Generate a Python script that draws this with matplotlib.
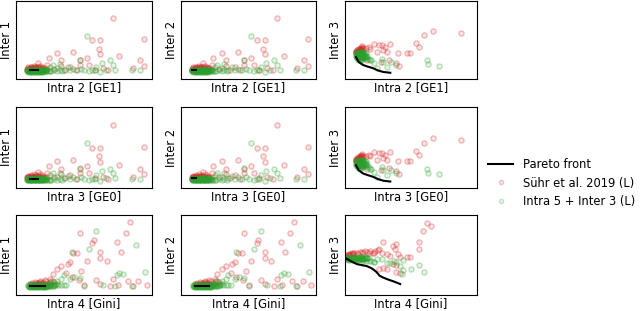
import matplotlib
matplotlib.use("Agg")
import matplotlib.pyplot as plt
from matplotlib.colors import to_rgba
from matplotlib.lines import Line2D

plt.rcParams["font.family"] = ["DejaVu Sans"]
plt.rcParams["font.size"] = 8.3

RED = "#d62728"
GREEN = "#2ca02c"

# values, in % of the (tick-less) axis range
# panels with x = Intra 2 / Intra 3, y = Inter 1 / Inter 2
ge_red_x = [71, 94, 56, 62, 61, 62, 42, 30, 24, 33, 52, 47, 76, 91, 94, 86, 54, 47, 40, 33,
            23, 18, 16, 20, 28, 36, 44, 58, 64, 68]
ge_red_y = [78, 51, 50, 50, 39, 32, 35, 33, 27, 24, 27, 24, 29, 24, 17, 14, 18, 18, 16, 17,
            18, 17, 20, 14, 13, 12, 11, 12, 14, 11]
ge_red_core_x = [8, 9, 10, 11, 12, 13, 14, 15, 16, 17, 18, 19, 20, 9, 11, 13, 15, 17, 19, 21,
                 23, 10, 12, 14, 16, 18, 8, 9, 10, 11, 12, 13, 14, 15]
ge_red_core_y = [12, 13, 14, 13, 14, 15, 14, 13, 15, 14, 13, 14, 13, 15, 16, 17, 16, 15, 16, 14,
                 13, 12, 12, 13, 12, 12, 13, 14, 13, 15, 13, 14, 13, 15]
ge_green_x = [52, 47, 69, 63, 71, 59, 73, 66, 56, 50, 45, 40, 85, 91, 62, 35, 30, 27, 25, 32,
              38, 42, 48, 54, 58]
ge_green_y = [55, 25, 24, 21, 18, 16, 12, 12, 11, 11, 11, 11, 11, 11, 9, 12, 14, 18, 16, 19,
              15, 13, 13, 10, 11]
ge_green_core_x = [8, 9, 10, 11, 12, 13, 14, 15, 16, 17, 18, 19, 20, 21, 22, 23, 24, 25,
                   8, 9, 10, 11, 12, 13, 14, 15, 16, 17, 18, 19, 20, 21, 22,
                   9, 10, 11, 12, 13, 14, 15, 16, 17, 18, 19, 20,
                   10, 12, 14, 16, 18, 20, 22, 26, 28, 30, 32, 34,
                   8.5, 9.5, 10.5, 11.5, 12.5, 13.5, 14.5, 15.5, 16.5, 17.5, 18.5, 19.5, 20.5,
                   8.5, 9.5, 10.5, 11.5, 12.5, 13.5, 14.5, 15.5, 16.5, 17.5, 18.5, 19.5, 20.5]
ge_green_core_y = [10, 10, 10, 10, 10, 10, 10, 10, 10, 10, 10, 10, 10, 10, 10, 10, 10, 10,
                   11, 11, 11, 11, 11, 11, 11, 11, 11, 11, 11, 11, 11, 11, 11,
                   9.5, 9.5, 9.5, 9.5, 9.5, 9.5, 9.5, 9.5, 9.5, 9.5, 9.5, 9.5,
                   12, 12, 13, 12, 13, 12, 11, 10, 11, 10, 11, 10,
                   10.5, 10.5, 10.5, 10.5, 10.5, 10.5, 10.5, 10.5, 10.5, 10.5, 10.5, 10.5, 10.5,
                   11.5, 11.5, 11.5, 11.5, 11.5, 11.5, 11.5, 11.5, 11.5, 11.5, 11.5, 11.5, 11.5]
ge_front1_x = [10, 16]
ge_front1_y = [11, 11]
ge_front2_x = [8, 11]
ge_front2_y = [12, 12]

# panels with x = Intra 2 / Intra 3, y = Inter 3
ge3_red_x = [67, 60, 88, 54, 56, 49, 47, 40, 34, 30, 28, 26, 22, 19, 29, 32, 24, 39, 41, 33,
             27, 17]
ge3_red_y = [62, 56, 59, 46, 41, 33, 33, 33, 45, 41, 43, 43, 45, 39, 37, 35, 35, 21, 17, 25,
             22, 24]
ge3_red_core_x = [8, 9, 10, 11, 12, 13, 14, 9, 10, 11, 12, 13, 8, 10, 12, 14, 16, 18,
                  8.5, 9.5, 10.5, 11.5, 8, 9]
ge3_red_core_y = [36, 37, 38, 39, 39, 40, 40, 34, 36, 38, 41, 42, 33, 35, 37, 38, 40, 41,
                  35, 36, 37, 38, 34, 35]
ge3_green_x = [62, 63, 71, 39, 35, 29, 28, 24, 22, 19, 17, 32]
ge3_green_y = [24, 19, 17, 18, 22, 22, 26, 14, 20, 24, 26, 16]
ge3_green_core_x = [8, 9, 10, 11, 12, 13, 14, 15, 16, 8, 9, 10, 11, 12, 13, 14, 15, 16, 17,
                    9, 10, 11, 12, 13, 14, 15, 9, 10, 11, 12, 13, 14, 10, 11, 12, 13, 16, 18, 20,
                    8.5, 9.5, 10.5, 11.5, 12.5, 13.5, 14.5, 8.5, 9.5, 10.5, 11.5, 12.5, 13.5, 14.5]
ge3_green_core_y = [33, 33, 33, 33, 33, 33, 33, 33, 33, 30, 30, 30, 30, 30, 30, 30, 30, 30, 30,
                    27, 27, 27, 27, 27, 27, 27, 35, 35, 35, 35, 35, 35, 25, 25, 25, 25, 28, 26, 24,
                    31.5, 31.5, 31.5, 31.5, 31.5, 31.5, 31.5, 28.5, 28.5, 28.5, 28.5, 28.5, 28.5, 28.5]
ge3_front_x = [8.3, 10.3, 13.6, 17.0, 21.0, 25.0, 29.0, 34.3]
ge3_front_y = [28.0, 22.0, 18.0, 16.0, 14.0, 11.0, 9.0, 8.0]

# panels with x = Intra 4 [Gini], y = Inter 1 / Inter 2
gini_red_x = [84, 81, 47, 57, 56, 74, 62, 62, 77, 67, 52, 42, 45, 40, 38, 33, 30, 27, 37, 48,
              41, 46, 59, 62, 71, 82, 90, 96, 86, 75, 69, 50, 20, 22, 18, 16, 24]
gini_red_y = [91, 78, 77, 69, 65, 66, 54, 46, 54, 42, 43, 53, 52, 41, 39, 36, 32, 26, 27, 30,
              22, 19, 19, 14, 20, 17, 18, 12, 11, 12, 11, 12, 14, 13, 16, 15, 12]
gini_red_core_x = [10, 12, 14, 16, 18, 20, 22, 24, 26, 28, 13, 17, 21, 25, 29,
                   11, 13, 15, 17, 19, 21]
gini_red_core_y = [14, 15, 16, 15, 17, 16, 18, 15, 17, 16, 13, 14, 19, 20, 14,
                   14, 14, 15, 14, 15, 14]
gini_green_x = [59, 54, 88, 41, 76, 74, 79, 95, 85, 73, 64, 50, 47, 43, 40, 35, 33, 30, 27,
                25]
gini_green_y = [80, 57, 63, 54, 27, 25, 26, 29, 11, 11, 12, 11, 21, 23, 20, 25, 20, 18, 18,
                16]
gini_green_core_x = [9, 10, 11, 12, 13, 14, 15, 16, 17, 18, 19, 20, 21, 22, 23, 24, 25, 26, 27, 28,
                     9, 11, 13, 15, 17, 19, 21, 23, 25, 27, 29, 31, 33, 35, 37,
                     10, 12, 14, 16, 18, 20, 22, 24, 26, 28, 30,
                     9.5, 10.5, 11.5, 12.5, 13.5, 14.5, 15.5, 16.5, 17.5, 18.5, 19.5, 20.5, 21.5, 22.5,
                     9.5, 10.5, 11.5, 12.5, 13.5, 14.5, 15.5, 16.5, 17.5, 18.5, 19.5, 20.5, 21.5, 22.5]
gini_green_core_y = [11, 11, 11, 11, 11, 11, 11, 11, 11, 11, 11, 11, 11, 11, 11, 11, 11, 11, 11, 11,
                     12, 12, 12, 12, 12, 12, 12, 12, 12, 12, 12, 12, 12, 12, 12,
                     13.5, 13, 13.5, 13, 13.5, 13, 13.5, 13, 13.5, 13, 13.5,
                     10.5, 10.5, 10.5, 10.5, 10.5, 10.5, 10.5, 10.5, 10.5, 10.5, 10.5, 10.5, 10.5, 10.5,
                     11.5, 11.5, 11.5, 11.5, 11.5, 11.5, 11.5, 11.5, 11.5, 11.5, 11.5, 11.5, 11.5, 11.5]
gini_front_x = [10, 21]
gini_front_y = [11, 11]

# panel with x = Intra 4 [Gini], y = Inter 3
gini3_red_x = [62, 65, 59, 56, 56, 39, 36, 38, 29, 26, 22, 28, 32, 34, 40, 42, 47, 49, 36, 39,
               29, 26, 32, 39, 42]
gini3_red_y = [90, 86, 80, 66, 58, 64, 61, 57, 66, 57, 53, 53, 51, 49, 51, 47, 48, 47, 39, 37,
               34, 32, 32, 29, 28]
gini3_red_core_x = [1, 3, 5, 7, 9, 11, 13, 15, 17, 19, 21, 2, 6, 10, 14, 18, 23, 25,
                    1, 2, 3, 4, 5, 6]
gini3_red_core_y = [50, 51, 52, 53, 53, 54, 54, 55, 54, 55, 53, 49, 50, 51, 52, 52, 55, 56,
                    49, 50, 50, 51, 51, 52]
gini3_green_x = [56, 60, 50, 44, 42, 37, 34, 39, 44, 32, 28, 24, 22, 43]
gini3_green_y = [37, 29, 32, 31, 36, 42, 40, 41, 44, 40, 45, 45, 41, 26]
gini3_green_core_x = [1, 2, 3, 4, 5, 6, 7, 8, 9, 10, 11, 12, 13, 14, 15, 16, 17, 18,
                      2, 4, 6, 8, 10, 12, 14, 16, 18, 20, 22,
                      1, 3, 5, 7, 9, 11, 13, 15, 17,
                      1.5, 2.5, 3.5, 4.5, 5.5, 6.5, 7.5, 8.5, 9.5, 10.5, 11.5, 12.5, 13.5, 14.5]
gini3_green_core_y = [46, 46, 46, 46, 46, 46, 46, 46, 46, 46, 46, 46, 46, 46, 46, 46, 46, 46,
                      44, 44, 44, 44, 44, 44, 43, 43, 42, 42, 41,
                      48, 48, 48, 48, 48, 48, 47, 47, 46,
                      45, 45, 45, 45, 45, 45, 45, 45, 45, 45, 44.5, 44.5, 44.5, 44.5]
gini3_front_x = [0.5, 5.3, 9.1, 12.8, 16.6, 20.4, 23.7, 26.2, 29.2, 33.0, 36.8, 41.8]
gini3_front_y = [46.1, 41.5, 38.6, 37.3, 36.1, 33.2, 29.0, 24.1, 21.6, 19.1, 17.0, 13.7]

x_labels = ["Intra 2 [GE1]", "Intra 3 [GE0]", "Intra 4 [Gini]"]
y_labels = ["Inter 1", "Inter 2", "Inter 3"]

fig = plt.figure(figsize=(6.4, 3.11), dpi=100)

W, H = 640, 311
col_left = [16, 181, 345]
col_width = [136, 135, 132]
row_top = [1, 107, 215]
row_height = [78, 81, 80]

ge_sets = [
    (ge_red_x + ge_red_core_x, ge_red_y + ge_red_core_y,
     ge_green_x + ge_green_core_x, ge_green_y + ge_green_core_y, ge_front1_x, ge_front1_y),
    (ge_red_x + ge_red_core_x, ge_red_y + ge_red_core_y,
     ge_green_x + ge_green_core_x, ge_green_y + ge_green_core_y, ge_front2_x, ge_front2_y),
    (ge3_red_x + ge3_red_core_x, ge3_red_y + ge3_red_core_y,
     ge3_green_x + ge3_green_core_x, ge3_green_y + ge3_green_core_y, ge3_front_x, ge3_front_y),
]
gini_sets = [
    (gini_red_x + gini_red_core_x, gini_red_y + gini_red_core_y,
     gini_green_x + gini_green_core_x, gini_green_y + gini_green_core_y, gini_front_x, gini_front_y),
    (gini_red_x + gini_red_core_x, gini_red_y + gini_red_core_y,
     gini_green_x + gini_green_core_x, gini_green_y + gini_green_core_y, gini_front_x, gini_front_y),
    (gini3_red_x + gini3_red_core_x, gini3_red_y + gini3_red_core_y,
     gini3_green_x + gini3_green_core_x, gini3_green_y + gini3_green_core_y, gini3_front_x, gini3_front_y),
]

for r in range(3):
    for c in range(3):
        rect = [col_left[c] / W, 1 - (row_top[r] + row_height[r]) / H,
                col_width[c] / W, row_height[r] / H]
        ax = fig.add_axes(rect)
        rx, ry, gx, gy, fx, fy = (gini_sets if r == 2 else ge_sets)[c]
        ax.scatter(rx, ry, s=14, facecolors=[to_rgba(RED, 0.12)],
                   edgecolors=[to_rgba(RED, 0.32)], linewidths=0.9)
        ax.scatter(gx, gy, s=14, facecolors=[to_rgba(GREEN, 0.12)],
                   edgecolors=[to_rgba(GREEN, 0.32)], linewidths=0.9)
        ax.plot(fx, fy, color="black", lw=1.5)
        ax.set_xlim(0, 100)
        ax.set_ylim(0, 100)
        ax.set_xticks([])
        ax.set_yticks([])
        ax.set_xlabel(x_labels[r], labelpad=1.5)
        ax.set_ylabel(y_labels[c], labelpad=2.5)

handles = [
    Line2D([], [], color="black", lw=1.5),
    Line2D([], [], ls="", marker="o", ms=3, mfc=to_rgba(RED, 0.1), mec=to_rgba(RED, 0.25)),
    Line2D([], [], ls="", marker="o", ms=3, mfc=to_rgba(GREEN, 0.1), mec=to_rgba(GREEN, 0.25)),
]
fig.legend(handles, ["Pareto front", "Sühr et al. 2019 (L)", "Intra 5 + Inter 3 (L)"],
           loc="center left", bbox_to_anchor=(488 / W, 1 - 183 / H), frameon=False,
           borderpad=0, borderaxespad=0, handlelength=2.2, labelspacing=0.45)

fig.savefig("out.png", dpi=100)
